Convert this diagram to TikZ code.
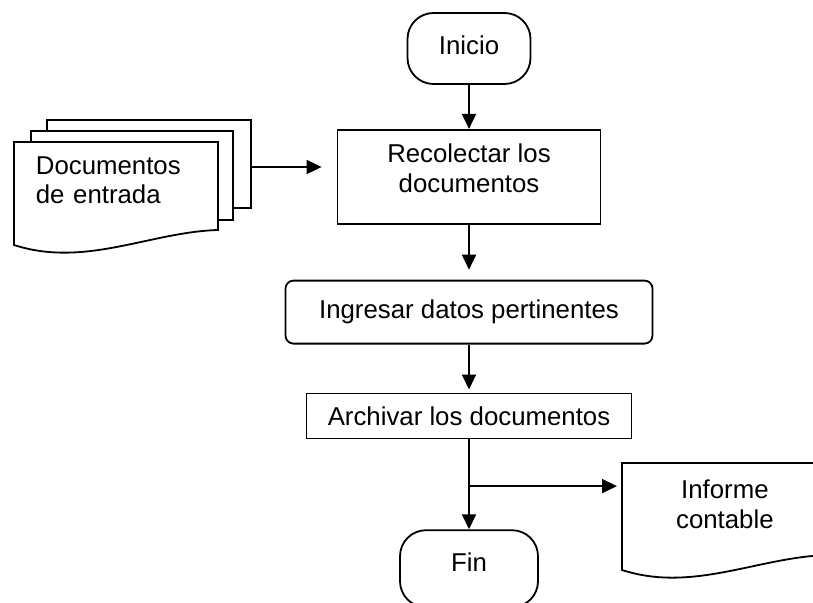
\documentclass[tikz,border=0pt]{standalone}
\usepackage{fontspec}
\setmainfont{Liberation Sans}
\usetikzlibrary{arrows.meta, positioning, calc}

% invisible depth to lift a text inside its box
\newcommand{\dropstrut}[1]{\rule[-#1]{0pt}{#1}}

\begin{document}
\begin{tikzpicture}[
    x=1pt, y=-1pt,
    >={Triangle[length=15pt, width=14pt]},
    line width=1.8pt,
    font=\fontsize{25.8pt}{29.5pt}\selectfont,
    terminal/.style={
      draw, rectangle, rounded corners=26pt, align=center,
      minimum width=123pt, minimum height=71pt, inner sep=0pt
    },
    process/.style={draw, rectangle, align=center, inner sep=0pt},
    doctext/.style={
      rectangle, anchor=north west, inner xsep=21pt, inner ysep=0pt,
      text width=162pt, minimum height=75pt
    },
    sheet/.style={draw, fill=white}
]
    \useasboundingbox (0,0) rectangle (813,602);

    % Main column
    \node[terminal] (inicio) at (469,48.5) {Inicio\dropstrut{7.5pt}};
    \node[process, below=44pt of inicio, minimum width=263pt, minimum height=94pt]
      (recolectar) {Recolectar los\\documentos\dropstrut{17.5pt}};
    \node[process, below=55pt of recolectar, rounded corners=8pt,
      minimum width=367pt, minimum height=63pt] (ingresar) {Ingresar datos pertinentes};
    \node[process, below=48pt of ingresar, minimum width=325pt, minimum height=45pt]
      (archivar) {Archivar los documentos};
    \node[terminal, below=90pt of archivar, minimum width=138pt, minimum height=77pt]
      (fin) {Fin\dropstrut{13pt}};

    % Input document stack
    \coordinate (hoja) at (14,142);
    \draw[sheet] ($(hoja)+(33,-22)$) rectangle ++(204,88);
    \draw[sheet] ($(hoja)+(17,-11)$) rectangle ++(202,89);
    \draw[sheet] (hoja) -- ++(0,103)
      .. controls ($(hoja)+(71,126)$) and ($(hoja)+(136,90)$) .. ($(hoja)+(204,88)$)
      -- ($(hoja)+(204,0)$) -- cycle;
    \node[doctext, align=left] (entrada) at (hoja) {Documentos\\de entrada};
    \coordinate (pila) at ($(hoja)+(237,25)$);

    % Output document
    \node[doctext, align=center, minimum height=81pt] (informe) at (622,463) {Informe\\contable};
    \draw (informe.north east) -- (informe.north west) -- ++(0,107)
      .. controls ($(informe.north west)+(71,130)$) and ($(informe.north west)+(136,94)$)
      .. ($(informe.north east)+(0,92)$) -- cycle;

    % Directed edges
    \draw[->] (inicio) -- (recolectar);
    \draw[->, shorten >=15pt] (pila) -- (pila -| recolectar.west);
    \draw[->, shorten >=10pt] (recolectar) -- (ingresar);
    \draw[->, shorten >=3pt] (ingresar) -- (archivar);
    \draw[->] (archivar) -- (fin);
    \coordinate (rama) at ($(archivar.south)!0.52!(fin.north)$);
    \draw[->, shorten >=5pt] (rama) -- (rama -| informe.west);
\end{tikzpicture}
\end{document}
